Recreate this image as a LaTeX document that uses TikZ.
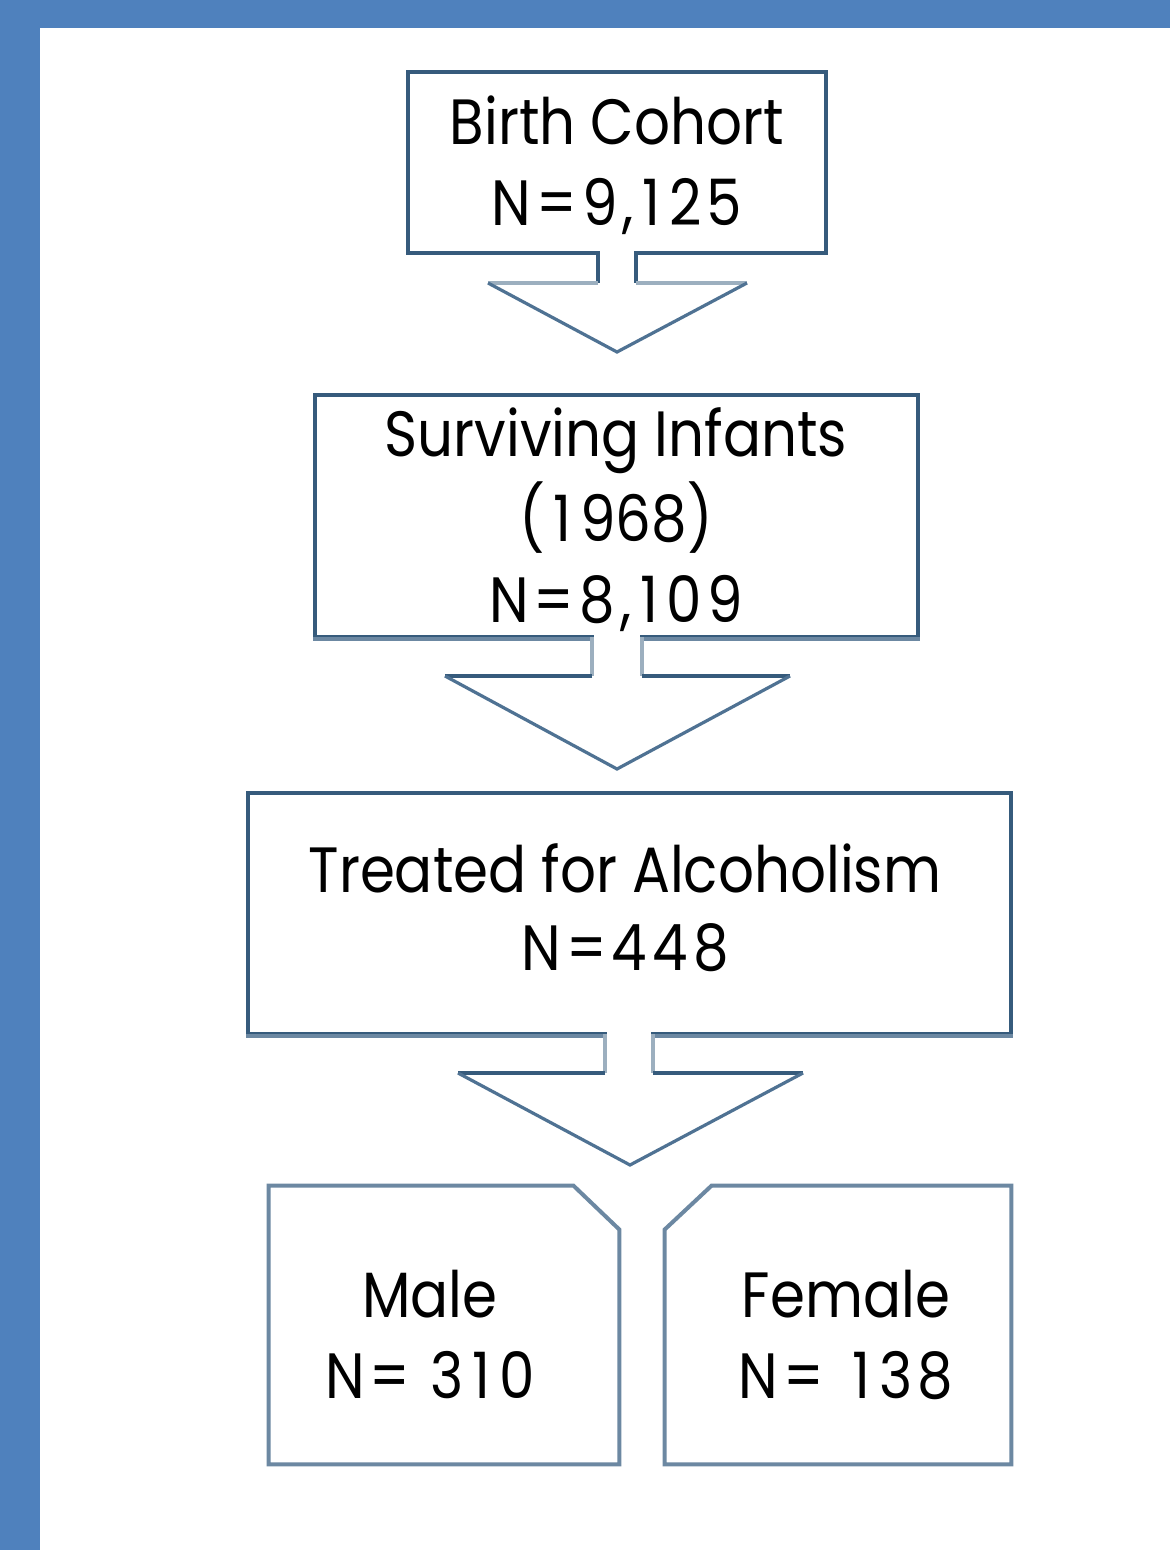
\documentclass[tikz,border=0pt]{standalone}
\usepackage{fontspec}
\setmainfont{Poppins}[FakeStretch=0.88]
\usetikzlibrary{calc}
\definecolor{band}{HTML}{4F81BD}
\definecolor{boxdark}{HTML}{365B7C}
\definecolor{boxmid}{HTML}{6C88A2}
\definecolor{arrowlight}{HTML}{9CAFBF}
\definecolor{arrowdiag}{HTML}{4F7293}
\newcommand\flowtext[1]{\fontsize{32}{40.5}\selectfont\begin{tabular}[t]{@{}c@{}}#1\end{tabular}}
\newcommand\tone{\makebox[\fontcharwd\font`0]{1}}
\newcommand\numline[1]{{\addfontfeature{LetterSpace=8}#1}}
\begin{document}
\begin{tikzpicture}[x=0.5pt,y=-0.5pt,
  flowbox/.style={draw=boxdark,line width=2pt,inner sep=0pt},
  splitbox/.style={draw=none,inner sep=0pt},
  splitedge/.style={draw=boxmid,line width=2pt,line join=miter},
  flowlabel/.style={inner sep=0pt,anchor=base,text=black},
  stemdark/.style={draw=boxdark,line width=2pt},
  stemlight/.style={draw=arrowlight,line width=2pt},
  diagline/.style={draw=arrowdiag,line width=1.6pt,line join=miter}]
\useasboundingbox (0,0) rectangle (1170,1550);
\fill[white] (0,0) rectangle (1170,1550);
\fill[band] (0,0) rectangle (1170,28);
\fill[band] (0,0) rectangle (40,1550);

% boxes
\node[flowbox,minimum width=209pt,minimum height=90.5pt] (b1) at (617,162.5) {};
\node[flowbox,minimum width=301.5pt,minimum height=121pt] (b2) at (616.5,516) {};
\node[flowbox,minimum width=381.5pt,minimum height=120.5pt] (b3) at (629.5,913.5) {};
\node[splitbox,minimum width=175pt,minimum height=139pt] (m) at (444,1325) {};
\node[splitbox,minimum width=173pt,minimum height=139pt] (f) at (838,1325) {};

\draw[boxmid,line width=2pt] (b2.south west) -- (b2.south east);
\draw[boxmid,line width=2pt] (b3.south west) -- (b3.south east);

% arrow 1 : b1 -> b2
\fill[white] ($(b1.south)+(-17,-4)$) rectangle ($(b1.south)+(17,4)$);
\draw[stemdark] ($(b1.south)+(-19,-2)$) -- ($(b1.south)+(-19,28)$);
\draw[stemdark] ($(b1.south)+(19,-2)$) -- ($(b1.south)+(19,28)$);
\draw[stemlight] ($(b1.south)+(-19,28)$) -- ($(b1.south)+(-129,28)$);
\draw[stemlight] ($(b1.south)+(19,28)$) -- ($(b1.south)+(130,28)$);
\draw[diagline] ($(b1.south)+(-129,28)$) -- ($(b1.south)+(0,97)$) -- ($(b1.south)+(130,28)$);

% arrow 2 : b2 -> b3
\fill[white] ($(b2.south)+(-22.5,-4)$) rectangle ($(b2.south)+(23.5,4)$);
\draw[stemlight] ($(b2.south)+(-24.5,-2)$) -- ($(b2.south)+(-24.5,37)$);
\draw[stemlight] ($(b2.south)+(25.5,-2)$) -- ($(b2.south)+(25.5,37)$);
\draw[stemdark] ($(b2.south)+(-24.5,37)$) -- ($(b2.south)+(-171.5,37)$);
\draw[stemdark] ($(b2.south)+(25.5,37)$) -- ($(b2.south)+(173.5,37)$);
\draw[diagline] ($(b2.south)+(-171.5,37)$) -- ($(b2.south)+(0.5,130)$) -- ($(b2.south)+(173.5,37)$);

% arrow 3 : b3 -> m, f
\fill[white] ($(b3.south)+(-22.5,-4)$) rectangle ($(b3.south)+(21.5,4)$);
\draw[stemlight] ($(b3.south)+(-24.5,-2)$) -- ($(b3.south)+(-24.5,37)$);
\draw[stemlight] ($(b3.south)+(23.5,-2)$) -- ($(b3.south)+(23.5,37)$);
\draw[stemdark] ($(b3.south)+(-24.5,37)$) -- ($(b3.south)+(-171.5,37)$);
\draw[stemdark] ($(b3.south)+(23.5,37)$) -- ($(b3.south)+(173.5,37)$);
\draw[diagline] ($(b3.south)+(-171.5,37)$) -- ($(b3.south)+(0.5,129)$) -- ($(b3.south)+(173.5,37)$);

% split boxes with cut corners
\draw[splitedge] (m.north west) -- ($(m.north east)+(-46,0)$) -- ($(m.north east)+(0,44)$) -- (m.south east) -- (m.south west) -- cycle;
\draw[splitedge] (f.north east) -- ($(f.north west)+(47,0)$) -- ($(f.north west)+(0,44)$) -- (f.south west) -- (f.south east) -- cycle;

% texts
\node[flowlabel] (t1) at (617,145) {\flowtext{Birth Cohort\\\numline{N=9,\tone25}}};
\node[flowlabel] (t2) at (616,457) {\flowtext{Surviving Infants\\(\tone968)\\\numline{N=8,\tone09}}};
\node[flowlabel] (t3) at (625,892) {\flowtext{Treated for Alcoholism\\[-1.5pt]\numline{N=448}}};
\node[flowlabel] (tm) at (430,1317) {\flowtext{Male\\\numline{N= 3\tone0}}};
\node[flowlabel] (tf) at (846,1317) {\flowtext{Female\\\numline{N= \tone38}}};
\end{tikzpicture}
\end{document}
